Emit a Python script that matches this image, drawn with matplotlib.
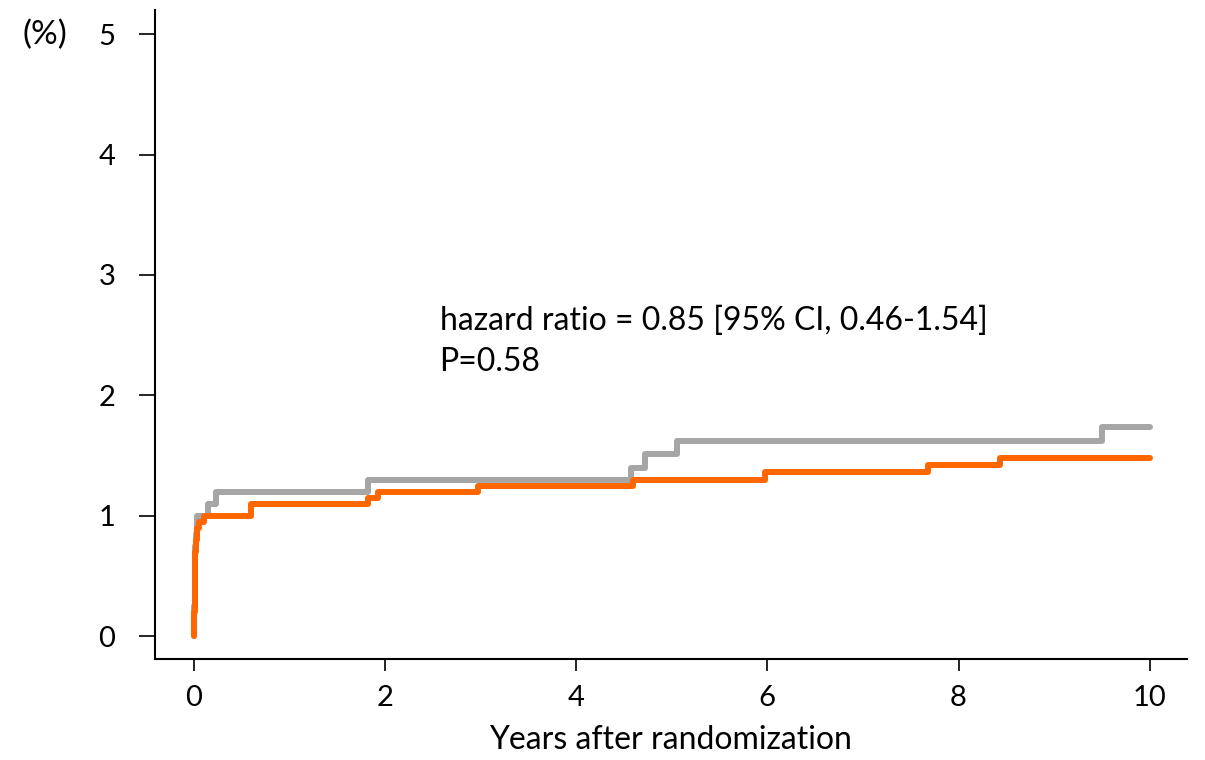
import matplotlib
matplotlib.use('Agg')
import matplotlib.pyplot as plt

# Cumulative incidence (%) step data
gray_years = [0, 0.003, 0.006, 0.01, 0.015, 0.02, 0.028, 0.15, 0.23, 1.82,
              4.57, 4.72, 5.05, 9.5, 10]
gray_pct = [0, 0.25, 0.45, 0.6, 0.75, 0.85, 1.0, 1.1, 1.2, 1.3,
            1.4, 1.51, 1.62, 1.74, 1.74]

orange_years = [0, 0.003, 0.006, 0.01, 0.015, 0.02, 0.03, 0.05, 0.1, 0.6,
                1.82, 1.93, 2.97, 4.59, 5.97, 7.68, 8.43, 10]
orange_pct = [0, 0.2, 0.4, 0.55, 0.7, 0.8, 0.9, 0.95, 1.0, 1.1,
              1.15, 1.2, 1.25, 1.3, 1.36, 1.42, 1.48, 1.48]

x_ticks = [0, 2, 4, 6, 8, 10]
y_ticks = [0, 1, 2, 3, 4, 5]

GRAY = '#A6A6A6'
ORANGE = '#FF6600'

plt.rcParams['font.family'] = ['Lato', 'DejaVu Sans']
FS = 21

fig = plt.figure(figsize=(12.05, 7.6), dpi=100)
ax = fig.add_axes([0.1286, 0.1329, 0.8564, 0.8539])

ax.step(gray_years, gray_pct, where='post', color=GRAY, lw=4.3,
        solid_capstyle='round', solid_joinstyle='round')
ax.step(orange_years, orange_pct, where='post', color=ORANGE, lw=4.3,
        solid_capstyle='round', solid_joinstyle='round')

ax.set_xlim(-0.408, 10.39)
ax.set_ylim(-0.19, 5.2)
ax.set_xticks(x_ticks)
ax.set_yticks(y_ticks)

for s in ['top', 'right']:
    ax.spines[s].set_visible(False)
for s in ['left', 'bottom']:
    ax.spines[s].set_linewidth(1.5)

ax.tick_params(axis='x', length=8.5, width=1.2, pad=10, labelsize=FS)
ax.tick_params(axis='y', length=11.5, width=1.2, pad=17, labelsize=FS)

ax.set_xlabel('Years after randomization', fontsize=23, labelpad=10)

ax.text(2.57, 2.45, 'hazard ratio = 0.85 [95% CI, 0.46-1.54]\nP=0.58',
        fontsize=23, va='center', ha='left', linespacing=1.45)

fig.text(45 / 1205, 1 - 35 / 760, '(%)', fontsize=24, ha='center', va='center')

fig.savefig('out.png', dpi=100)
